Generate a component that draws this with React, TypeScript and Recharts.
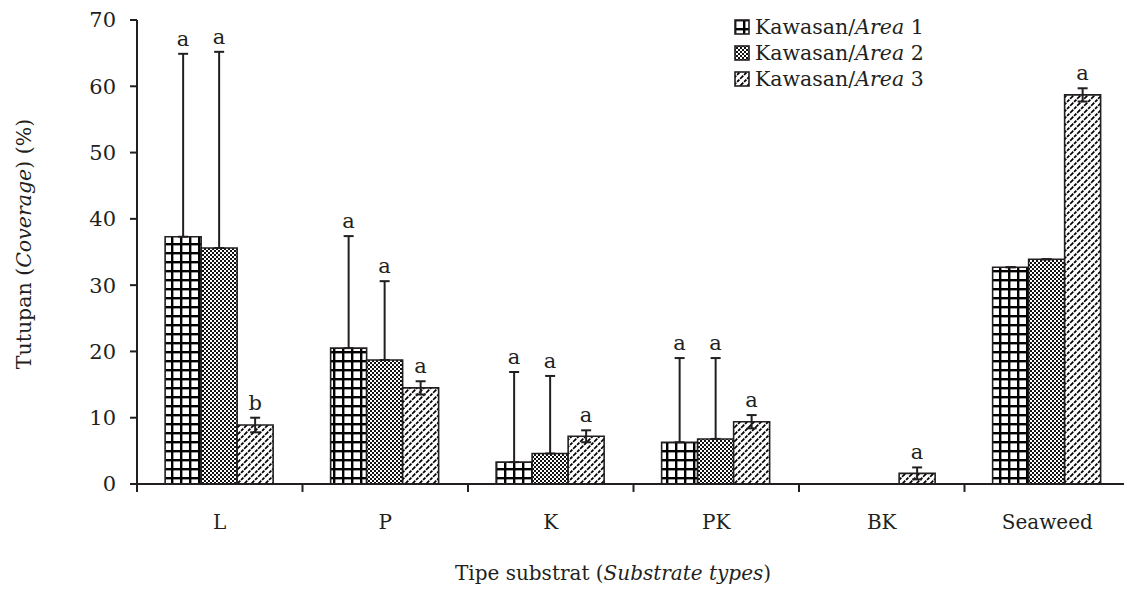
import React from 'react';
import { BarChart, Bar, XAxis, YAxis, ErrorBar, LabelList, ReferenceLine } from 'recharts';

const categories = ['L', 'P', 'K', 'PK', 'BK', 'Seaweed'];
const area1 = [37.3, 20.5, 3.3, 6.3, 0, 32.7];
const area2 = [35.6, 18.7, 4.6, 6.8, 0, 33.9];
const area3 = [8.9, 14.5, 7.2, 9.4, 1.6, 58.7];
// areas 1 and 2 only show the upper arm of the error bar
const errUp1 = [27.6, 16.9, 13.6, 12.7, 0, 0];
const errUp2 = [29.6, 11.9, 11.7, 12.2, 0, 0];
const err3 = [1.1, 1.0, 0.9, 1.0, 0.9, 1.0];
const sig1 = ['a', 'a', 'a', 'a', '', 'a'];
const sig2 = ['a', 'a', 'a', 'a', '', 'a'];
const sig3 = ['b', 'a', 'a', 'a', 'a', 'a'];
const yTicks = [0, 10, 20, 30, 40, 50, 60, 70];

const FONT = '"DejaVu Serif", serif';
const INK = '#231f20';

const data = categories.map((name, i) => ({
  name,
  a1: area1[i],
  a2: area2[i],
  a3: area3[i],
  e1: [0, errUp1[i]],
  e2: [0, errUp2[i]],
  e3: [err3[i], err3[i]],
}));

const series = [
  { key: 'a1', err: 'e1', fill: 'url(#pGrid)', values: area1, up: errUp1, sig: sig1, n: 1 },
  { key: 'a2', err: 'e2', fill: 'url(#pDots)', values: area2, up: errUp2, sig: sig2, n: 2 },
  { key: 'a3', err: 'e3', fill: 'url(#pHatch)', values: area3, up: err3, sig: sig3, n: 3 },
];

// letter sits just above the error bar top (bar px-per-unit taken from the bar itself)
const sigLabel = (values: number[], up: number[], sig: string[]) => (props: any) => {
  const vb = props.viewBox || props;
  const x = Number(vb.x ?? props.x);
  const y = Number(vb.y ?? props.y);
  const w = Number(vb.width ?? props.width);
  const hRaw = Number(vb.height ?? props.height);
  const h = Math.abs(hRaw);
  const i = props.index;
  const v = values[i];
  if (!sig[i] || !v) return null;
  const top = Math.min(y, y + hRaw) - (up[i] * h) / v;
  return (
    <text x={x + w / 2} y={top - 8} textAnchor="middle" fill={INK} fontSize={21} fontFamily={FONT}>
      {sig[i]}
    </text>
  );
};

const Swatch = ({ fill }: { fill: string }) => (
  <svg width={16} height={16} style={{ marginRight: 5, flex: 'none' }}>
    <rect x={1} y={1} width={14} height={14} fill={fill} stroke={INK} strokeWidth={1.6} />
  </svg>
);

export default function App() {
  return (
    <div
      style={{
        position: 'absolute',
        left: 0,
        top: 0,
        width: 1124,
        height: 592,
        overflow: 'hidden',
        background: '#fff',
        fontFamily: FONT,
        color: INK,
      }}
    >
      <BarChart
        width={1140}
        height={592}
        data={data}
        margin={{ top: 20, right: 10, left: 0, bottom: 48 }}
        barCategoryGap="17%"
        barGap={0}
      >
        <defs>
          <pattern id="pGrid" patternUnits="userSpaceOnUse" width={9} height={9}>
            <rect width={9} height={9} fill="#fff" />
            <rect x={0} y={0} width={9} height={2.4} fill="#000" />
            <rect x={0} y={0} width={2.4} height={9} fill="#000" />
          </pattern>
          <pattern id="pDots" patternUnits="userSpaceOnUse" width={4} height={4}>
            <rect width={4} height={4} fill="#fff" />
            <rect x={0} y={0} width={2} height={2} fill="#111" />
            <rect x={2} y={2} width={2} height={2} fill="#111" />
          </pattern>
          <pattern id="pHatch" patternUnits="userSpaceOnUse" width={7} height={7}>
            <rect width={7} height={7} fill="#fff" />
            <path
              d="M0 7L7 0M-2 2L2 -2M5 9L9 5"
              stroke="#000"
              strokeWidth={1.8}
              strokeDasharray="3.2 1.2"
            />
          </pattern>
        </defs>
        <XAxis
          dataKey="name"
          interval={0}
          height={60}
          tickLine={false}
          tickSize={0}
          tickMargin={31}
          axisLine={{ stroke: INK, strokeWidth: 2 }}
          tick={{ fill: INK, fontSize: 20, fontFamily: FONT }}
        />
        <YAxis
          width={137}
          domain={[0, 70]}
          ticks={yTicks}
          interval={0}
          tickSize={7}
          tickMargin={14}
          tickLine={{ stroke: INK, strokeWidth: 2 }}
          axisLine={{ stroke: INK, strokeWidth: 2 }}
          tick={{ fill: INK, fontSize: 21, fontFamily: FONT }}
        />
        {categories.map((c) => (
          <ReferenceLine
            key={c}
            segment={[
              { x: c, y: 0 },
              { x: c, y: -1.2 },
            ]}
            position="start"
            ifOverflow="visible"
            stroke={INK}
            strokeWidth={2}
          />
        ))}
        {series.map((s) => (
          <Bar
            key={s.key}
            dataKey={s.key}
            fill={s.fill}
            stroke={INK}
            strokeWidth={1.6}
            isAnimationActive={false}
          >
            <ErrorBar dataKey={s.err} direction="y" width={5} stroke={INK} strokeWidth={2} />
            <LabelList dataKey={s.key} content={sigLabel(s.values, s.up, s.sig)} />
          </Bar>
        ))}
      </BarChart>

      <div
        style={{
          position: 'absolute',
          left: 24,
          top: 244,
          transform: 'translate(-50%, -50%) rotate(-90deg)',
          whiteSpace: 'nowrap',
          fontSize: 20.5,
        }}
      >
        Tutupan (<i>Coverage</i>) (%)
      </div>

      <div
        style={{
          position: 'absolute',
          left: 613,
          top: 573,
          transform: 'translate(-50%, -50%)',
          whiteSpace: 'nowrap',
          fontSize: 20,
        }}
      >
        Tipe substrat (<i>Substrate types</i>)
      </div>

      <div style={{ position: 'absolute', left: 734, top: 14, fontSize: 20.5 }}>
        {series.map((s) => (
          <div key={s.key} style={{ display: 'flex', alignItems: 'center', height: 26 }}>
            <Swatch fill={s.fill} />
            <span style={{ whiteSpace: 'nowrap' }}>
              Kawasan/<i>Area</i> {s.n}
            </span>
          </div>
        ))}
      </div>
    </div>
  );
}
